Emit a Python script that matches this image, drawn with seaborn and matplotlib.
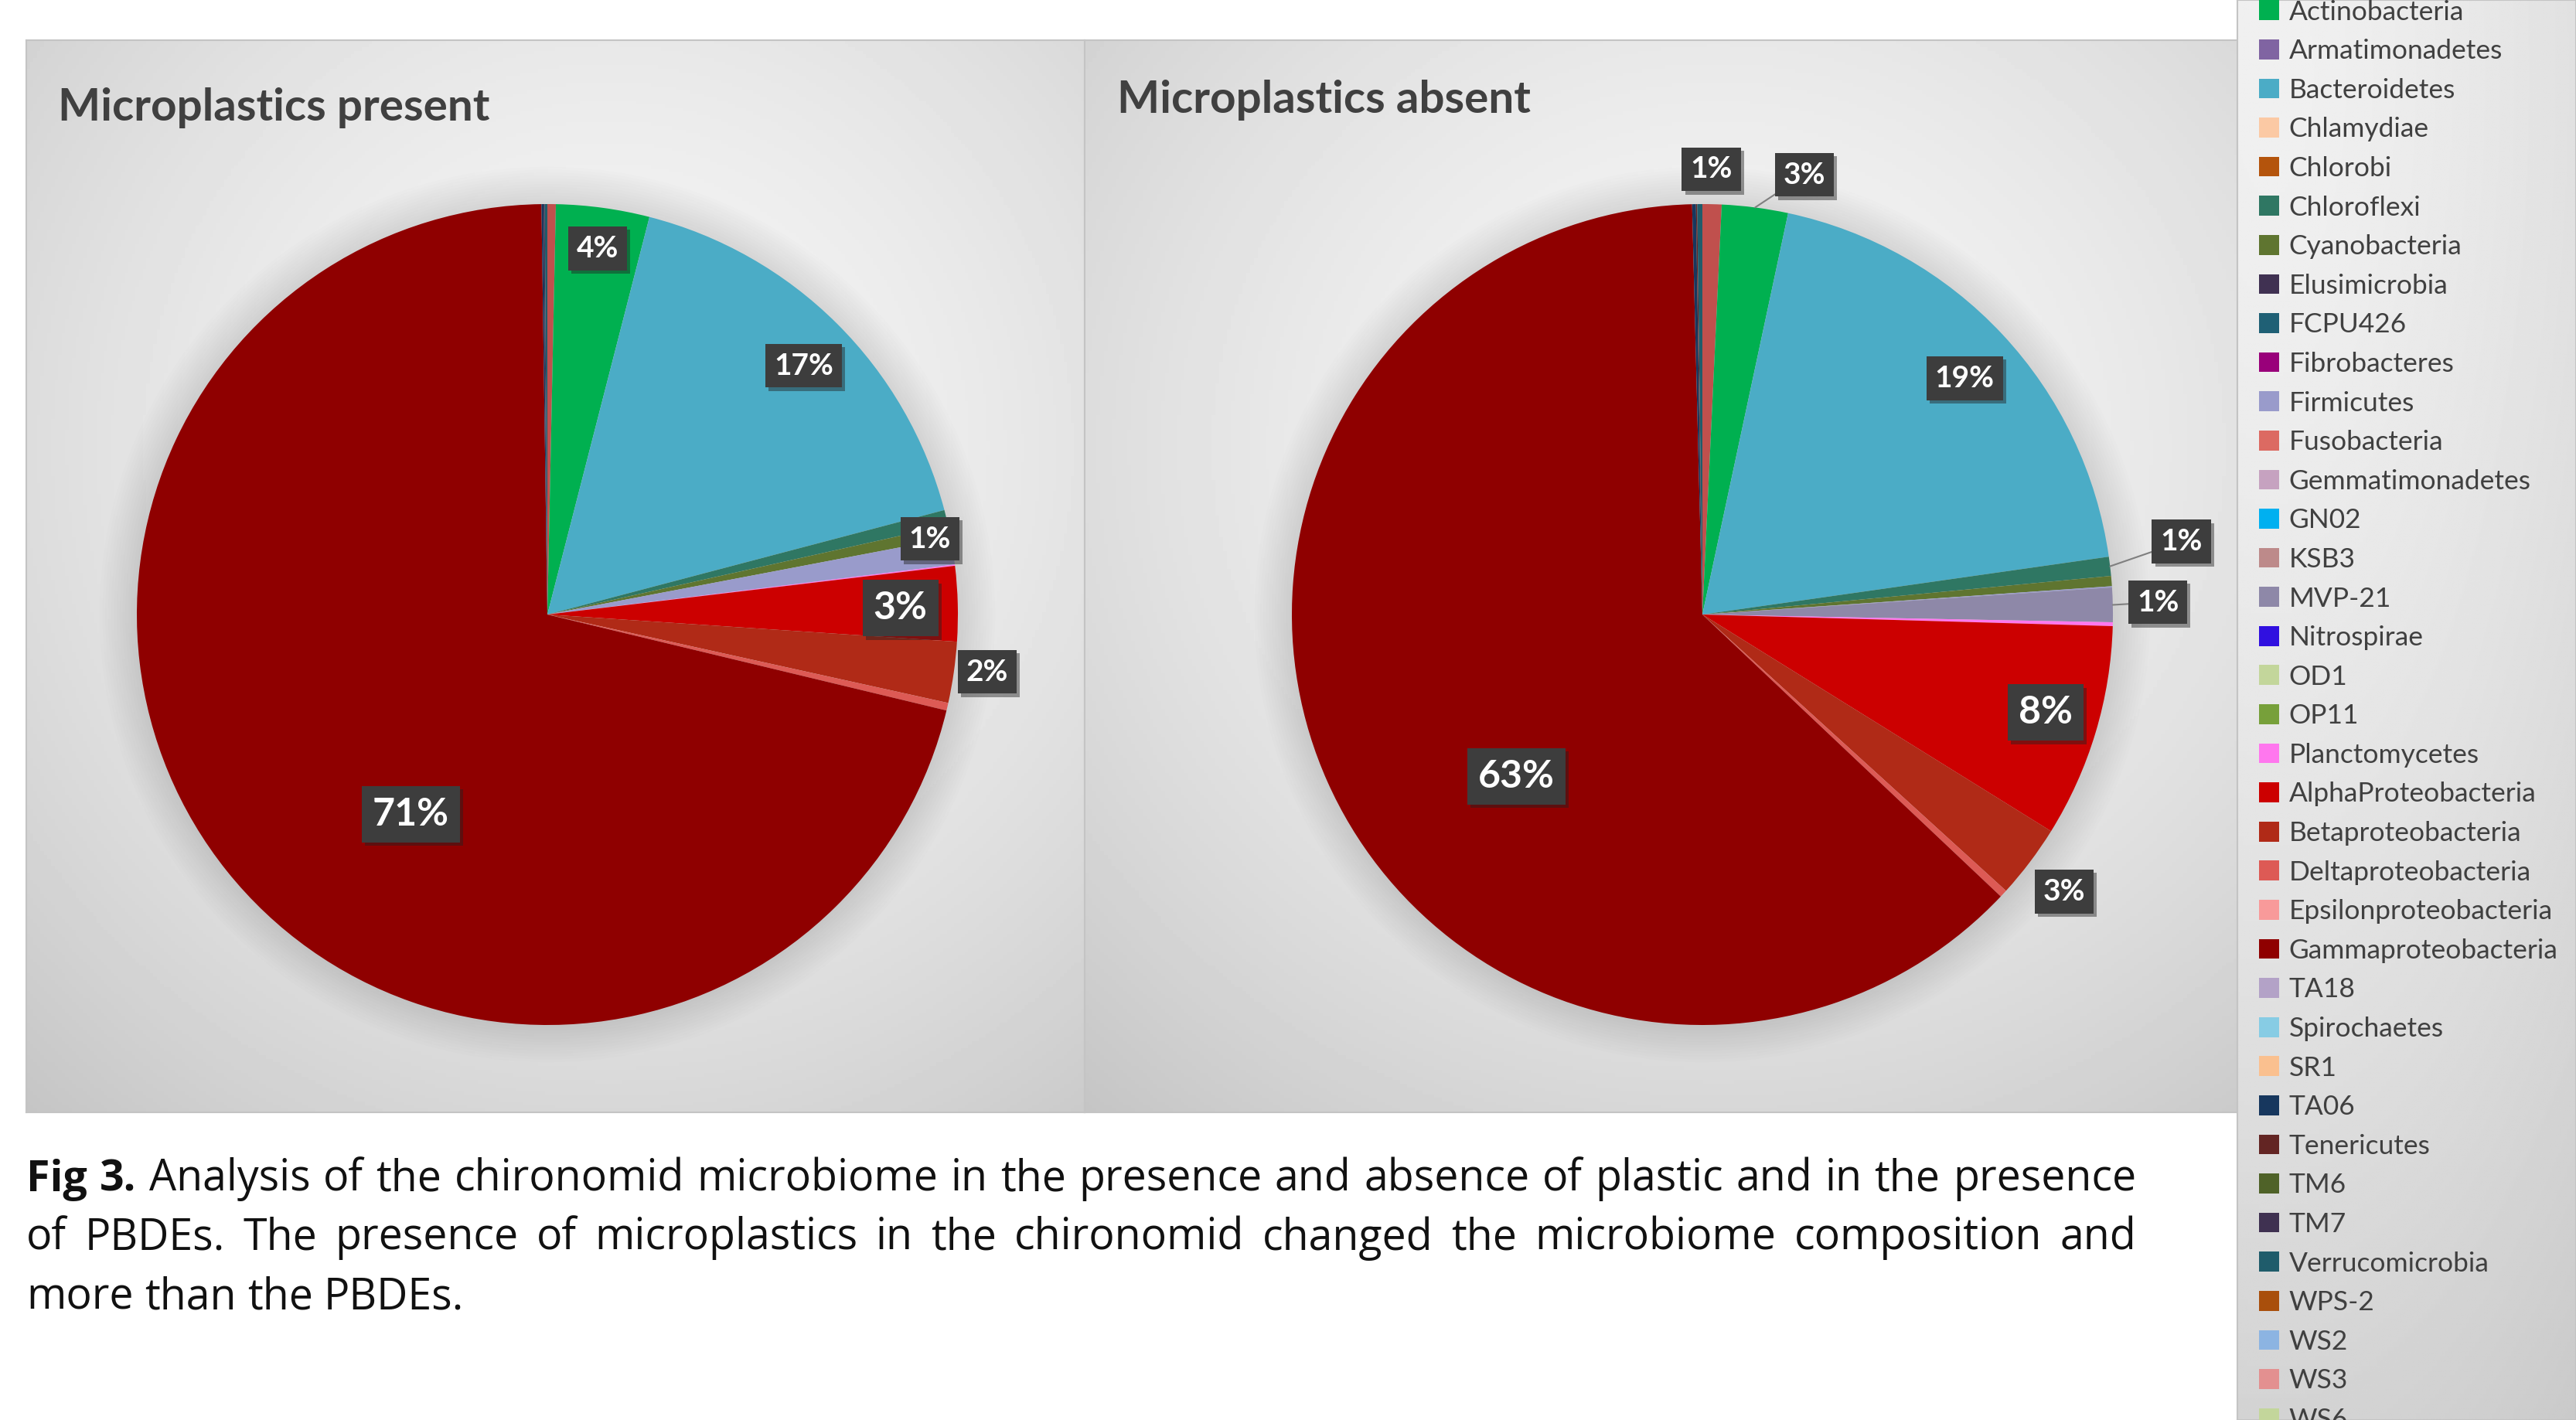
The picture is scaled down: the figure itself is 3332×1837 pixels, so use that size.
import numpy as np
import matplotlib
matplotlib.use("Agg")
import matplotlib.pyplot as plt
import matplotlib.patheffects as pe
from matplotlib.patches import Patch, Circle
import seaborn as sns

sns.set_theme(style="white")
plt.rcParams["font.family"] = ["Lato", "DejaVu Sans"]

# phyla in legend / series order
phyla = ["Acidobacteria", "Actinobacteria", "Armatimonadetes", "Bacteroidetes", "Chlamydiae",
         "Chlorobi", "Chloroflexi", "Cyanobacteria", "Elusimicrobia", "FCPU426",
         "Fibrobacteres", "Firmicutes", "Fusobacteria", "Gemmatimonadetes", "GN02",
         "KSB3", "MVP-21", "Nitrospirae", "OD1", "OP11",
         "Planctomycetes", "AlphaProteobacteria", "Betaproteobacteria", "Deltaproteobacteria",
         "Epsilonproteobacteria", "Gammaproteobacteria", "TA18", "Spirochaetes", "SR1",
         "TA06", "Tenericutes", "TM6", "TM7", "Verrucomicrobia",
         "WPS-2", "WS2", "WS3", "WS6"]

phylum_colors = ["#c0504d", "#00b050", "#8064a2", "#4bacc6", "#fbc9a4",
                 "#b4540c", "#2f7763", "#5f7530", "#403152", "#1f6075",
                 "#99007a", "#999bcb", "#dc6a62", "#c6a2c0", "#00b0f0",
                 "#bd8a8a", "#8e88a8", "#3010e0", "#c3d69b", "#77a03a",
                 "#ff77ee", "#cc0000", "#b02a17", "#dd5a55",
                 "#f89a9a", "#8f0000", "#b3a2c7", "#87cce4", "#fac08f",
                 "#17375e", "#632523", "#4f6228", "#3f3151", "#1f5c6b",
                 "#a94f0c", "#8cb4e2", "#e39090", "#c3d69b"]

# relative abundance (%)
present = [0.33, 3.67, 0, 16.9, 0,
           0, 0.6, 0.5, 0, 0,
           0, 1.05, 0, 0, 0,
           0, 0, 0, 0, 0,
           0.05, 2.95, 2.4, 0.3,
           0, 71.0, 0, 0, 0,
           0.08, 0, 0, 0.05, 0.1,
           0, 0, 0, 0]

absent = [0.75, 2.6, 0, 19.4, 0,
          0, 0.75, 0.4, 0, 0,
          0, 0.05, 0, 0, 0,
          0, 1.35, 0, 0, 0,
          0.15, 8.4, 2.9, 0.3,
          0, 62.55, 0, 0, 0,
          0.15, 0.05, 0, 0, 0.2,
          0, 0, 0, 0]

titles = ["Microplastics present", "Microplastics absent"]

# which slices carry a data label: phylum -> (radial distance, angular nudge clockwise in deg, big font, leader line)
present_labels = {"Actinobacteria": (0.90, 0, False, False),
                  "Bacteroidetes": (0.87, 1, False, False),
                  "Firmicutes": (0.95, -2.3, False, False),
                  "AlphaProteobacteria": (0.86, 0.5, True, False),
                  "Betaproteobacteria": (1.08, -0.7, False, False),
                  "Gammaproteobacteria": (0.59, -17, True, False)}
absent_labels = {"Acidobacteria": (1.085, -0.2, False, False),
                 "Actinobacteria": (1.10, 5.7, False, True),
                 "Bacteroidetes": (0.86, 1, False, False),
                 "Chloroflexi": (1.18, -1.9, False, True),
                 "MVP-21": (1.11, -0.2, False, True),
                 "AlphaProteobacteria": (0.87, -0.8, True, False),
                 "Betaproteobacteria": (1.11, 0.4, False, False),
                 "Gammaproteobacteria": (0.60, -17, True, False)}

caption_lines = ["Fig 3. Analysis of the chironomid microbiome in the presence and absence of plastic and in the presence",
                 "of PBDEs. The presence of microplastics in the chironomid changed the microbiome composition and",
                 "more than the PBDEs."]

W, H = 3332, 1837
fig = plt.figure(figsize=(W / 100, H / 100), dpi=100, facecolor="white")


def rect(x0, y0, x1, y1):
    return [x0 / W, 1 - y1 / H, (x1 - x0) / W, (y1 - y0) / H]


def gradient_panel(box, cx, cy, inner, outer, scale):
    ax = fig.add_axes(rect(*box))
    yy, xx = np.mgrid[0:1:300j, 0:1:300j]
    d = np.sqrt(((xx - cx) / scale[0]) ** 2 + ((yy - cy) / scale[1]) ** 2)
    img = inner + (outer - inner) * np.clip(d, 0, 1.2) ** 1.6
    ax.imshow(img, cmap="gray", vmin=0, vmax=1, extent=[0, 1, 0, 1], origin="upper", aspect="auto")
    ax.set_xticks([])
    ax.set_yticks([])
    for s in ax.spines.values():
        s.set_color("#c4c4c4")
        s.set_linewidth(1.5)
    return ax


gradient_panel((34, 52, 1403, 1439), 0.55, 0.38, 0.965, 0.80, (0.75, 0.75))
gradient_panel((1403, 52, 2894, 1439), 0.55, 0.38, 0.965, 0.80, (0.75, 0.75))
gradient_panel((2894, 0, 3332, 1837), 0.1, 0.05, 0.94, 0.82, (1.4, 1.0))

centers = [(708, 795), (2202, 795)]
R = 531
L = 1.3 * R
label_sets = [present_labels, absent_labels]

for (cx, cy), vals, title, labels in zip(centers, [present, absent], titles, label_sets):
    ax = fig.add_axes(rect(cx - L, cy - L, cx + L, cy + L))
    ax.patch.set_alpha(0)
    # soft halo behind the pie
    for i in range(14):
        ax.add_patch(Circle((0, 0.0), 1 + 0.007 * i, fc="black", ec="none", alpha=0.009, zorder=0))
    wedges, _ = ax.pie(vals, colors=phylum_colors, startangle=90, counterclock=False,
                       radius=1, wedgeprops=dict(linewidth=0))
    ax.set_xlim(-1.3, 1.3)
    ax.set_ylim(-1.3, 1.3)
    ax.set_aspect("equal")
    ax.axis("off")
    total = sum(vals)
    for name, (dist, nudge, big, leader) in labels.items():
        i = phyla.index(name)
        w = wedges[i]
        mid = np.deg2rad((w.theta1 + w.theta2) / 2 - nudge)
        tx, ty = dist * np.cos(mid), dist * np.sin(mid)
        txt = f"{vals[i] / total * 100:.0f}%"
        fs = 36 if big else 28
        kw = dict(ha="center", va="center", fontsize=fs, fontweight="bold", color="white",
                  bbox=dict(boxstyle="square,pad=0.28", fc="#3d3d3d", ec="none"), zorder=5)
        if leader:
            amid = np.deg2rad((w.theta1 + w.theta2) / 2)
            t = ax.annotate(txt, xy=(np.cos(amid), np.sin(amid)), xytext=(tx, ty),
                            arrowprops=dict(arrowstyle="-", color="#7f7f7f", lw=1.5,
                                            shrinkA=0, shrinkB=0), **kw)
        else:
            t = ax.text(tx, ty, txt, **kw)
        t.get_bbox_patch().set_path_effects([pe.withSimplePatchShadow(offset=(3, -3), alpha=0.45,
                                                                      shadow_rgbFace="#222222")])

# panel titles
fig.text(75 / W, 1 - 140 / H, titles[0], fontsize=42, fontweight="bold", color="#404040", va="center")
fig.text(1445 / W, 1 - 130 / H, titles[1], fontsize=42, fontweight="bold", color="#404040", va="center")

# legend
handles = [Patch(fc=c, ec="none") for c in phylum_colors]
fig.legend(handles, phyla, loc="upper left", bbox_to_anchor=(2922 / W, 1 + 51 / H),
           frameon=False, fontsize=25.5, labelcolor="#404040", handlelength=0.74, handleheight=0.74,
           handletextpad=0.35, labelspacing=0.525, borderpad=0, borderaxespad=0)

# caption, justified like the journal text
cap_font = ["Open Sans", "DejaVu Sans"]
cap_size = 40
renderer = fig.canvas.get_renderer()
x_left, x_right = 34, 2763
line_y = [1526, 1602, 1679]


def word_width(s, weight):
    t = fig.text(0, 0, s, fontsize=cap_size, family=cap_font, fontweight=weight)
    wdt = t.get_window_extent(renderer).width
    t.remove()
    return wdt


space_w = word_width("a a", "normal") - word_width("aa", "normal")
for n, (line, y) in enumerate(zip(caption_lines, line_y)):
    words = line.split(" ")
    weights = ["bold" if (n == 0 and k < 2) else "normal" for k in range(len(words))]
    widths = [word_width(wd, wt) for wd, wt in zip(words, weights)]
    if n < len(caption_lines) - 1:
        gap = (x_right - x_left - sum(widths)) / (len(words) - 1)
    else:
        gap = space_w
    x = x_left
    for wd, wt, ww in zip(words, weights, widths):
        fig.text(x / W, 1 - y / H, wd, fontsize=cap_size, family=cap_font, fontweight=wt,
                 color="#111111", va="center")
        x += ww + gap

fig.savefig("out.png", dpi=100, facecolor="white")
